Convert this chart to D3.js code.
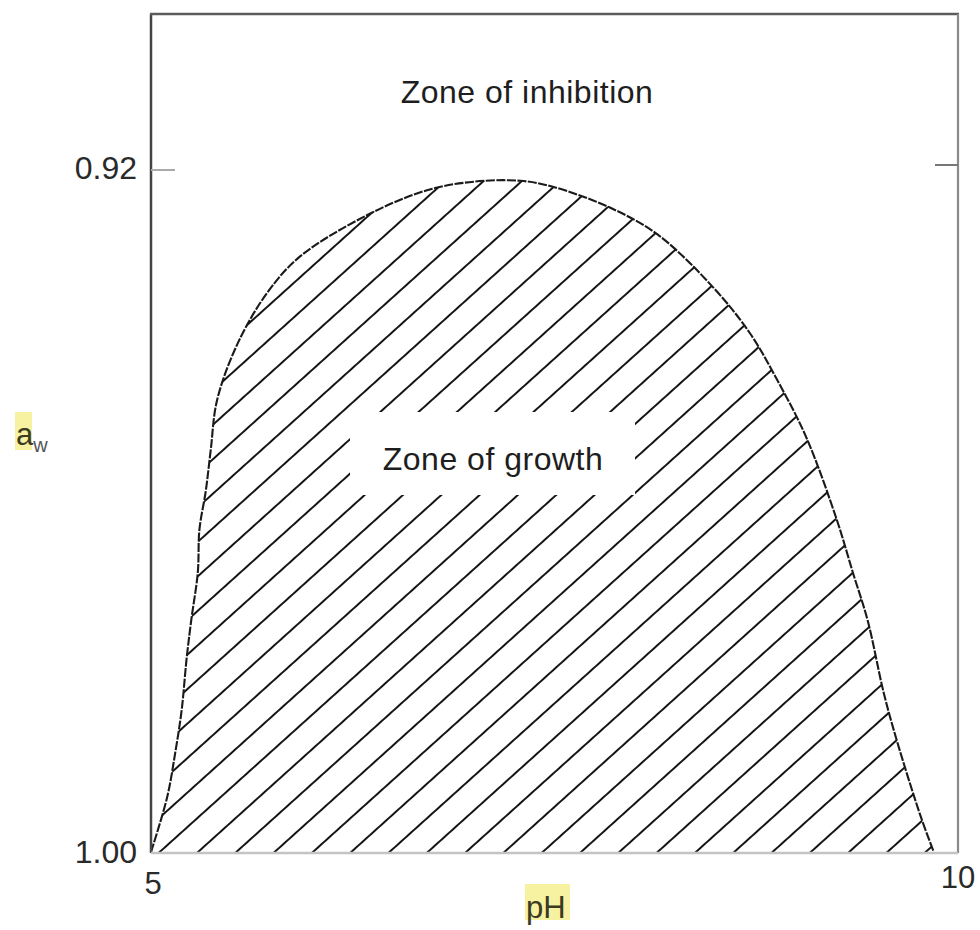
<!DOCTYPE html>
<html lang="en">
<head>
<meta charset="UTF-8">
<title>Zone of growth: pH vs water activity</title>
<style>
  body { margin: 0; background: #fff; }
  svg { display: block; font-family: "Liberation Sans", Arial, sans-serif; }
</style>
</head>
<body>
<div id="chart"></div>
<script src="https://d3js.org/d3.v7.min.js"></script>
<script>
// boundary of the growth zone
const phValues = [5.00, 5.10, 5.15, 5.19, 5.22, 5.25, 5.29, 5.30, 5.34, 5.37, 5.41, 5.54, 5.72, 5.92,
                  6.34, 6.71, 7.00, 7.29, 7.49, 7.84, 8.14, 8.48, 8.71, 8.88, 9.06, 9.25, 9.35,
                  9.44, 9.54, 9.62, 9.77, 9.85];
const awValues = [1.000, 0.9936, 0.9884, 0.9834, 0.9775, 0.9728, 0.9673, 0.9623, 0.9577, 0.9530, 0.9471,
                  0.9404, 0.9346, 0.9304, 0.9255, 0.9226, 0.9216, 0.9215, 0.9222, 0.9246, 0.9278,
                  0.9339, 0.9393, 0.9448, 0.9515, 0.9612, 0.9674, 0.9729, 0.9814, 0.9869, 0.9959, 1.000];

const xTicks = [5, 10];
const xTickLabels = ["5", "10"];
const yTicks = [0.92, 1.00];
const yTickLabels = ["0.92", "1.00"];

const width = 980, height = 930;

const x = d3.scaleLinear().domain([5, 10]).range([151, 958]);
const y = d3.scaleLinear().domain([0.92, 1.00]).range([168, 852]);
const yTop = 0.902; // top of the frame

const svg = d3.select("#chart").append("svg")
    .attr("width", width)
    .attr("height", height);

// hatch pattern
const angle = 42, gap = 38.3 * Math.sin(angle * Math.PI / 180);
const pattern = svg.append("defs").append("pattern")
    .attr("id", "hatch")
    .attr("patternUnits", "userSpaceOnUse")
    .attr("width", 200)
    .attr("height", gap)
    .attr("patternTransform", `translate(198,${y(1)}) rotate(${-angle}) translate(0,${-gap / 2})`);
pattern.append("line")
    .attr("x1", 0).attr("x2", 200)
    .attr("y1", gap / 2).attr("y2", gap / 2)
    .attr("stroke", "#141414")
    .attr("stroke-width", 1.9);

const pts = phValues.map((p, i) => [p, awValues[i]]);

const area = d3.area()
    .x(d => x(d[0]))
    .y0(y(1))
    .y1(d => y(d[1]))
    .curve(d3.curveCatmullRom);

svg.append("path")
    .datum(pts)
    .attr("d", area)
    .attr("fill", "url(#hatch)");

// white box behind the inner label
svg.append("rect")
    .attr("x", 350).attr("y", 412)
    .attr("width", 285).attr("height", 83)
    .attr("fill", "#fff");

const line = d3.line()
    .x(d => x(d[0]))
    .y(d => y(d[1]))
    .curve(d3.curveCatmullRom);

svg.append("path")
    .datum(pts)
    .attr("d", line)
    .attr("fill", "none")
    .attr("stroke", "#1a1a1a")
    .attr("stroke-width", 2.1)
    .attr("stroke-dasharray", "9,1.5");

// frame
const frame = svg.append("g").attr("fill", "none");
frame.append("line").attr("x1", x(5)).attr("x2", x(5)).attr("y1", y(yTop)).attr("y2", y(1) + 1)
    .attr("stroke", "#444").attr("stroke-width", 2.5);
frame.append("line").attr("x1", x(5) - 1).attr("x2", x(10) + 1).attr("y1", y(yTop)).attr("y2", y(yTop))
    .attr("stroke", "#5c5c5c").attr("stroke-width", 2.5);
frame.append("line").attr("x1", x(10)).attr("x2", x(10)).attr("y1", y(yTop)).attr("y2", y(1) + 1)
    .attr("stroke", "#8a8a8a").attr("stroke-width", 2.2);
frame.append("line").attr("x1", x(5)).attr("x2", x(10)).attr("y1", y(1) + 1).attr("y2", y(1) + 1)
    .attr("stroke", "#c4c4c4").attr("stroke-width", 2.5);

// ticks at 0.92 on both sides
frame.append("line").attr("x1", x(5)).attr("x2", x(5) + 24).attr("y1", y(0.92) + 2).attr("y2", y(0.92) + 2)
    .attr("stroke", "#aaa").attr("stroke-width", 2);
frame.append("line").attr("x1", x(10) - 23).attr("x2", x(10)).attr("y1", y(0.92) - 3).attr("y2", y(0.92) - 3)
    .attr("stroke", "#777").attr("stroke-width", 2);

// tick labels
svg.append("g").selectAll("text")
    .data(yTicks)
    .join("text")
    .attr("x", x(5) - 14)
    .attr("y", d => y(d) + 11)
    .attr("text-anchor", "end")
    .attr("font-size", 32)
    .attr("fill", "#2a2a2a")
    .text((d, i) => yTickLabels[i]);

svg.append("g").selectAll("text")
    .data(xTicks)
    .join("text")
    .attr("x", d => x(d) + (d === 5 ? 2 : 0))
    .attr("y", (d, i) => i === 0 ? 894 : 888)
    .attr("text-anchor", "middle")
    .attr("font-size", 31)
    .attr("fill", "#2a2a2a")
    .text((d, i) => xTickLabels[i]);

// zone labels
svg.append("text")
    .attr("x", 527).attr("y", 103)
    .attr("text-anchor", "middle")
    .attr("font-size", 32)
    .attr("letter-spacing", 0.5)
    .attr("fill", "#1e1e1e")
    .text("Zone of inhibition");

svg.append("text")
    .attr("x", 493).attr("y", 470)
    .attr("text-anchor", "middle")
    .attr("font-size", 32)
    .attr("letter-spacing", 0.5)
    .attr("fill", "#1e1e1e")
    .text("Zone of growth");

// axis titles with yellow highlight
svg.append("rect").attr("x", 15).attr("y", 412).attr("width", 17).attr("height", 38)
    .attr("fill", "#f7f1a2");
const aw = svg.append("text").attr("x", 16).attr("y", 445).attr("fill", "#3b3a22");
aw.append("tspan").attr("font-size", 31).text("a");
aw.append("tspan").attr("font-size", 20).attr("dy", 7).attr("fill", "#555").text("w");

svg.append("rect").attr("x", 525).attr("y", 884).attr("width", 45).attr("height", 36)
    .attr("fill", "#f7f1a2");
svg.append("text").attr("x", 526).attr("y", 918)
    .attr("font-size", 31)
    .attr("fill", "#3b3a22")
    .text("pH");
</script>
</body>
</html>
